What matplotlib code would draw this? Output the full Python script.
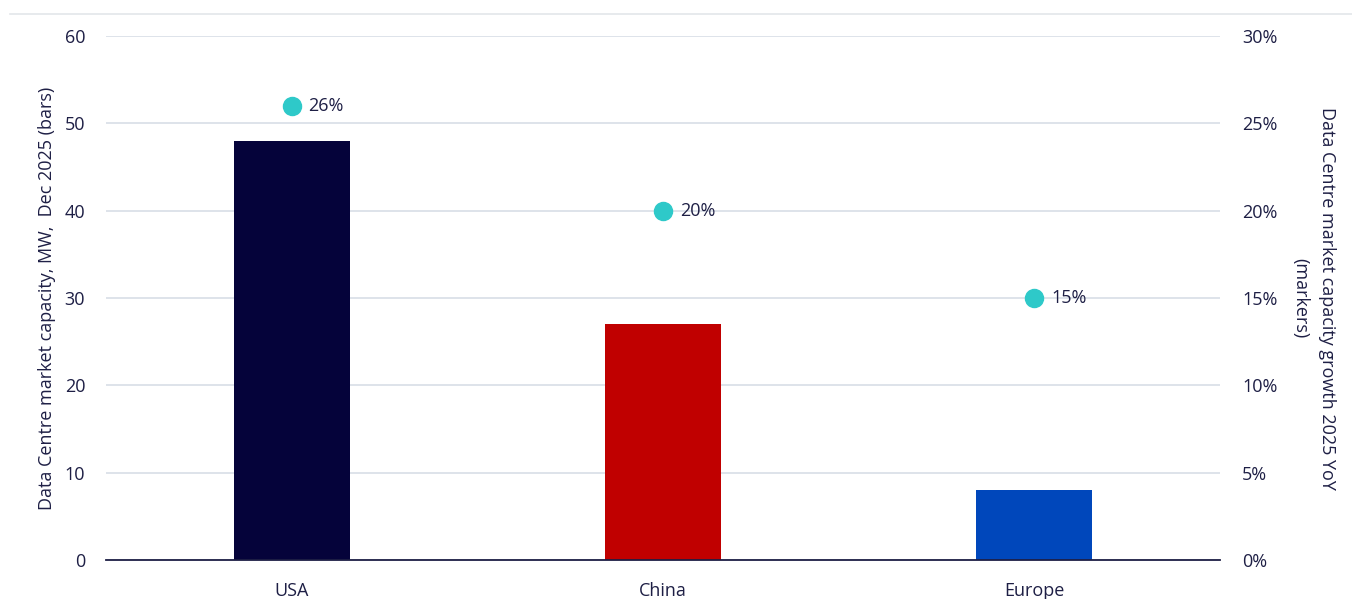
import matplotlib.pyplot as plt
from matplotlib.lines import Line2D

# --- data ---
regions = ["USA", "China", "Europe"]
capacity_mw = [48, 27, 8]
growth_pct = [26, 20, 15]
bar_colors = ["#05033a", "#c00000", "#0047bb"]

text_col = "#1e1f45"
grid_col = "#d8dee6"
marker_col = "#2ec9c9"

plt.rcParams['font.family'] = ['Open Sans', 'DejaVu Sans']
plt.rcParams['font.size'] = 13

fig = plt.figure(figsize=(13.52, 5.99), dpi=100)
ax = fig.add_axes([106 / 1352, 39 / 599, (1220 - 106) / 1352, (560 - 36) / 599])

x = range(len(regions))
ax.bar(x, capacity_mw, width=0.313, color=bar_colors, zorder=2)

ax.set_xlim(-0.5, 2.5)
ax.set_ylim(0, 60)
ax.set_yticks(range(0, 61, 10))
ax.set_xticks(list(x))
ax.set_xticklabels(regions)
ax.grid(axis='y', color=grid_col, linewidth=1.2, zorder=0)
ax.set_axisbelow(True)
for s in ['top', 'right', 'left']:
    ax.spines[s].set_visible(False)
ax.spines['bottom'].set_color(text_col)
ax.spines['bottom'].set_linewidth(1.3)
ax.tick_params(axis='both', length=0, colors=text_col, labelsize=13)
ax.tick_params(axis='y', pad=15)
ax.tick_params(axis='x', pad=16)
ax.set_ylabel("Data Centre market capacity, MW,  Dec 2025 (bars)",
              color=text_col, fontsize=13, labelpad=6)

# --- growth markers on the right axis ---
ax2 = ax.twinx()
ax2.set_ylim(0, 30)
ax2.set_yticks(range(0, 31, 5))
ax2.set_yticklabels([f"{v}%" for v in range(0, 31, 5)])
ax2.grid(False)
for s in ax2.spines.values():
    s.set_visible(False)
ax2.tick_params(axis='y', length=0, colors=text_col, labelsize=13, pad=16)
ax2.plot(list(x), growth_pct, linestyle='none', marker='o', markersize=13,
         color=marker_col, zorder=3)
for xi, g in zip(x, growth_pct):
    ax2.annotate(f"{g}%", (xi, g), xytext=(12, 0), textcoords='offset points',
                 va='center', ha='left', color=text_col, fontsize=13)
ax2.set_ylabel("Data Centre market capacity growth 2025 YoY\n(markers)",
               color=text_col, fontsize=13, rotation=270, labelpad=42,
               linespacing=1.65)

# thin line across the top of the figure
fig.add_artist(Line2D([10 / 1352, 1], [585 / 599, 585 / 599], color="#e3e6ea",
                      linewidth=1.2, transform=fig.transFigure))

fig.savefig("out.png", dpi=100)
